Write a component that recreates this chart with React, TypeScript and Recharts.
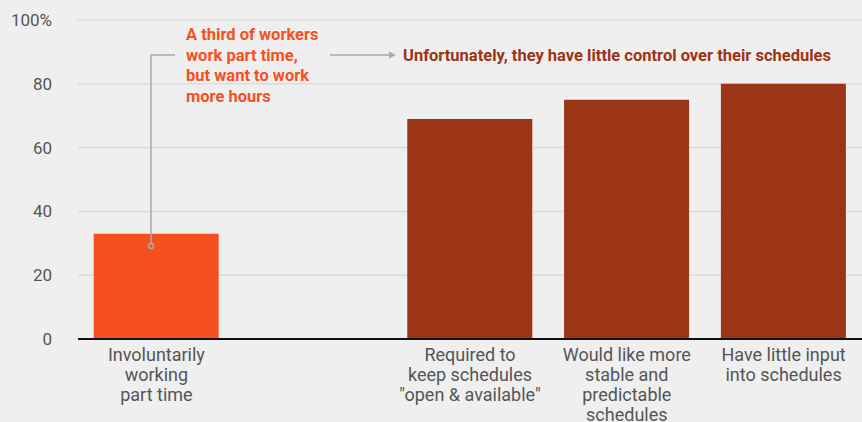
import { BarChart, Bar, XAxis, YAxis, CartesianGrid, Cell } from "recharts"

const categories = [
    "Involuntarily\nworking\npart time",
    " ",
    "Required to\nkeep schedules\n\"open & available\"",
    "Would like more\nstable and\npredictable\nschedules",
    "Have little input\ninto schedules",
]
const shares = [33, null, 69, 75, 80]
const yTicks = [0, 20, 40, 60, 80, 100]
const noteLeft = ["A third of workers", "work part time,", "but want to work", "more hours"]
const noteRight = "Unfortunately, they have little control over their schedules"

const ORANGE = "#F5511F"
const DARK = "#9C3416"
const FONT = "Roboto, sans-serif"

const data = categories.map((name, i) => ({ name, value: shares[i] }))

function CategoryTick({ x, y, payload }: any) {
    const lines = String(payload.value).split("\n")
    return (
        <text x={x} y={y} textAnchor="middle" fill="#555" fontSize={18} fontFamily={FONT}>
            {lines.map((line, i) => (
                <tspan key={i} x={x} dy={i === 0 ? 18 : 20}>{line}</tspan>
            ))}
        </text>
    )
}

// annotation overlay, drawn above the bars
function Notes() {
    return (
        <svg
            width={862}
            height={422}
            style={{ position: "absolute", left: 0, top: 0, pointerEvents: "none" }}
        >
            <g fontFamily={FONT} fontWeight="bold" fontSize={16.5}>
                <polyline points="151,246 151,55 175,55" fill="none" stroke="#aaa" strokeWidth={1.5} />
                <circle cx={151} cy={246} r={2.5} fill={ORANGE} stroke="#aaa" strokeWidth={1.5} />
                <text x={186} y={40} fill={ORANGE}>
                    {noteLeft.map((line, i) => (
                        <tspan key={i} x={186} dy={i === 0 ? 0 : 20.5}>{line}</tspan>
                    ))}
                </text>
                <line x1={330} y1={55} x2={390} y2={55} stroke="#aaa" strokeWidth={1.5} />
                <path d="M389,51.5 L396,55 L389,58.5 Z" fill="#aaa" />
                <text x={403} y={61} fill={DARK}>{noteRight}</text>
            </g>
        </svg>
    )
}

export default function App() {
    return (
        <div style={{ background: "#efefef", width: 862, height: 422, position: "relative", overflow: "hidden" }}>
            <style>{`body{margin:0}`}</style>
            <BarChart
                width={862}
                height={422}
                data={data}
                margin={{ top: 20, right: 0, bottom: 0, left: 0 }}
                barCategoryGap="10%"
            >
                <CartesianGrid vertical={false} stroke="#dcdcdc" strokeWidth={1.5} />
                <YAxis
                    width={78}
                    domain={[0, 100]}
                    ticks={yTicks}
                    tickSize={0}
                    tickMargin={26}
                    axisLine={false}
                    tickLine={false}
                    tick={{ fill: "#555", fontSize: 17, fontFamily: FONT }}
                    tickFormatter={(v: number) => (v === 100 ? "100%" : String(v))}
                />
                <XAxis
                    dataKey="name"
                    interval={0}
                    tickLine={false}
                    tickSize={0}
                    tickMargin={4}
                    axisLine={{ stroke: "#111", strokeWidth: 2 }}
                    tick={<CategoryTick />}
                    height={83}
                />
                <Bar dataKey="value" isAnimationActive={false}>
                    {data.map((entry, index) => (
                        <Cell key={`cell-${index}`} fill={index === 0 ? ORANGE : DARK} />
                    ))}
                </Bar>
            </BarChart>
            <Notes />
        </div>
    )
}
